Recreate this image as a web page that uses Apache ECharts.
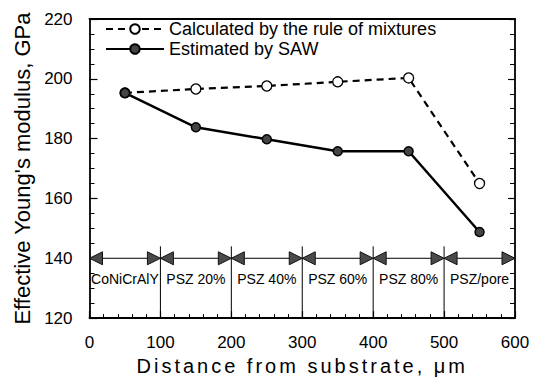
<!DOCTYPE html>
<html><head><meta charset="utf-8">
<script src="https://cdn.jsdelivr.net/npm/echarts@6/dist/echarts.min.js"></script>
<style>html,body{margin:0;padding:0;background:#fff}#c{width:534px;height:381px}</style>
</head><body><div id="c"></div>
<script>
// ---- data ----
const distances = [50, 150, 250, 350, 450, 550];
const calculated = [195.3, 196.6, 197.6, 199.0, 200.3, 165.0];
const estimated = [195.3, 183.8, 179.8, 175.8, 175.8, 148.8];
const layerBounds = [0, 100, 200, 300, 400, 500, 600];
const layerNames = ['CoNiCrAlY', 'PSZ 20%', 'PSZ 40%', 'PSZ 60%', 'PSZ 80%', 'PSZ/pore'];
const arrowLevel = 140;
const layerLabelLevel = 133;
const separatorTop = 144;
const seriesNames = ['Calculated by the rule of mixtures', 'Estimated by SAW'];

// ---- build ----
const FONT = 'Liberation Sans';
const arrows = layerNames.map((n, i) => [layerBounds[i], layerBounds[i + 1], arrowLevel]);
const separators = layerBounds.slice(1, -1).map(b => [b, 120, separatorTop]);
const labels = layerNames.map((n, i) => [(layerBounds[i] + layerBounds[i + 1]) / 2, layerLabelLevel]);

const chart = echarts.init(document.getElementById('c'), null, {renderer: 'svg'});
const axisLineStyle = {color: '#000', width: 1.8};
const legendText = {fontSize: 18, fontFamily: FONT, color: '#000'};
const option = {
  animation: false,
  backgroundColor: '#fff',
  textStyle: {fontFamily: FONT, color: '#000'},
  grid: {left: 89.5, right: 19, top: 19, bottom: 62, containLabel: false},
  legend: [
    {data: [seriesNames[0]], left: 105, top: 20, padding: 0, itemWidth: 58, itemHeight: 12, textStyle: legendText},
    {data: [seriesNames[1]], left: 105, top: 40, padding: 0, itemWidth: 58, itemHeight: 12, textStyle: legendText}
  ],
  xAxis: [
    {type: 'value', min: 0, max: 600, interval: 100, position: 'bottom',
     axisLine: {show: true, onZero: false, lineStyle: axisLineStyle},
     axisTick: {show: true, inside: true, length: 7, lineStyle: {color: '#000', width: 1.2}},
     minorTick: {show: true, splitNumber: 5, length: 4, lineStyle: {color: '#000', width: 1}},
     axisLabel: {fontSize: 17, margin: 16, color: '#000', fontFamily: FONT},
     splitLine: {show: false},
     name: 'Distance from substrate, \u03bcm', nameLocation: 'middle', nameGap: 30,
     nameTextStyle: {fontSize: 20, fontFamily: FONT, color: '#000'}},
    {type: 'value', min: 0, max: 600, interval: 100, position: 'top',
     axisLine: {show: true, onZero: false, lineStyle: axisLineStyle},
     axisTick: {show: false}, axisLabel: {show: false}, splitLine: {show: false}}
  ],
  yAxis: [
    {type: 'value', min: 120, max: 220, interval: 20, position: 'left',
     axisLine: {show: true, onZero: false, lineStyle: axisLineStyle},
     axisTick: {show: true, inside: true, length: 8, lineStyle: {color: '#000', width: 1.2}},
     minorTick: {show: true, splitNumber: 4, length: 5, lineStyle: {color: '#000', width: 1}},
     axisLabel: {fontSize: 17, margin: 17, color: '#000', fontFamily: FONT},
     splitLine: {show: false},
     name: "Effective Young's modulus, GPa", nameLocation: 'middle', nameGap: 55, nameRotate: 90,
     nameTextStyle: {fontSize: 22, fontFamily: FONT, color: '#000'}},
    {type: 'value', min: 120, max: 220, interval: 20, position: 'right',
     axisLine: {show: true, onZero: false, lineStyle: axisLineStyle},
     axisTick: {show: true, inside: true, length: 7, lineStyle: {color: '#000', width: 1.2}},
     minorTick: {show: true, splitNumber: 4, length: 5, lineStyle: {color: '#000', width: 1}},
     axisLabel: {show: false}, splitLine: {show: false}}
  ],
  series: [
    {type: 'custom', silent: true, z: 1,
     data: separators, encode: {x: 0, y: [1, 2]},
     renderItem: (params, api) => {
       const a = api.coord([api.value(0), api.value(1)]);
       const b = api.coord([api.value(0), api.value(2)]);
       return {type: 'line', shape: {x1: a[0], y1: a[1], x2: b[0], y2: b[1]},
               style: {stroke: '#000', lineWidth: 1}};
     }},
    {type: 'custom', silent: true, z: 2,
     data: arrows, encode: {x: [0, 1], y: 2},
     renderItem: (params, api) => {
       const a = api.coord([api.value(0), api.value(2)]);
       const b = api.coord([api.value(1), api.value(2)]);
       const L = 13, H = 6.5;
       const head = {fill: '#4a4a4a', stroke: '#111', lineWidth: 1};
       return {type: 'group', children: [
         {type: 'line', shape: {x1: a[0] + L, y1: a[1], x2: b[0] - L, y2: b[1]},
          style: {stroke: '#000', lineWidth: 1}},
         {type: 'polygon', shape: {points: [[a[0], a[1]], [a[0] + L, a[1] - H], [a[0] + L, a[1] + H]]}, style: head},
         {type: 'polygon', shape: {points: [[b[0], b[1]], [b[0] - L, b[1] - H], [b[0] - L, b[1] + H]]}, style: head}
       ]};
     }},
    {type: 'custom', silent: true, z: 2,
     data: labels, encode: {x: 0, y: 1},
     renderItem: (params, api) => {
       const p = api.coord([api.value(0), api.value(1)]);
       return {type: 'text', x: p[0], y: p[1],
               style: {text: layerNames[params.dataIndex], fontSize: 14, fontFamily: FONT,
                       fill: '#000', align: 'center', verticalAlign: 'middle'}};
     }},
    {name: seriesNames[0], type: 'line', z: 3,
     data: distances.map((d, i) => [d, calculated[i]]),
     symbol: 'circle', symbolSize: 10,
     itemStyle: {color: '#fff', borderColor: '#000', borderWidth: 1.3},
     lineStyle: {color: '#000', width: 2.2, type: [7, 5]}},
    {name: seriesNames[1], type: 'line', z: 4,
     data: distances.map((d, i) => [d, estimated[i]]),
     symbol: 'circle', symbolSize: 9,
     itemStyle: {color: '#444', borderColor: '#000', borderWidth: 1.5},
     lineStyle: {color: '#000', width: 2.5}}
  ]
};
chart.setOption(option);

function spaceTitle() {
  document.querySelectorAll('#c text').forEach(t => {
    if (t.textContent.indexOf('Distance') === 0) {
      t.style.letterSpacing = '3px';
    }
  });
}
spaceTitle();
chart.on('finished', spaceTitle);
setTimeout(spaceTitle, 50);
</script>
</body></html>
